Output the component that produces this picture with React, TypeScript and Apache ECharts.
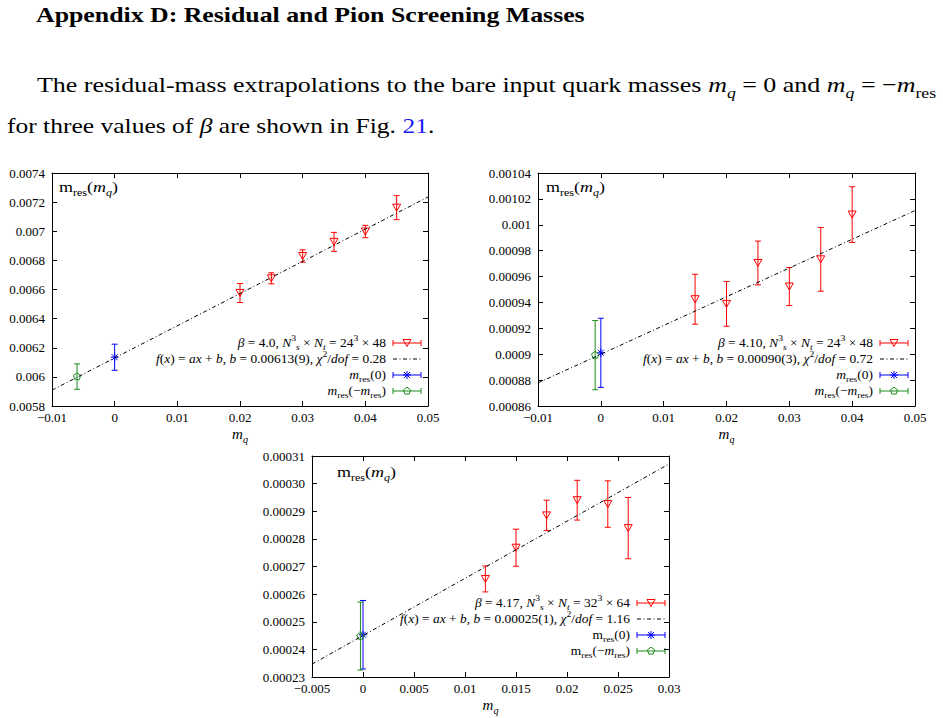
import { useEffect, useRef } from 'react';
import * as echarts from 'echarts';

const SERIF = 'Liberation Serif';
const RED = '#ff0000';
const BLUE = '#0000ff';
const GREEN = '#1e8c1e';
const INK = '#000000';

// beta = 4.0, 24^3 x 48
const mq40 = [0.02, 0.025, 0.03, 0.035, 0.04, 0.045];
const mres40 = [0.006576, 0.006677, 0.00683, 0.006927, 0.006998, 0.007162];
const mresErr40 = [0.0000653, 0.0000378, 0.0000424, 0.0000653, 0.0000424, 0.0000825];
const atZero40 = [0, 0.006135, 0.0000894];
const atNegRes40 = [-0.006, 0.006002, 0.0000871];
const fit40 = [0.0221, 0.00613]; // slope a, intercept b

// beta = 4.10, 24^3 x 48
const mq410 = [0.015, 0.02, 0.025, 0.03, 0.035, 0.04];
const mres410 = [0.0009425, 0.0009389, 0.0009705, 0.0009523, 0.0009733, 0.0010079];
const mresErr410 = [0.0000193, 0.0000173, 0.0000169, 0.0000147, 0.0000246, 0.0000215];
const atZero410 = [0, 0.0009011, 0.0000267];
const atNegRes410 = [-0.0009, 0.0008993, 0.0000267];
const fit410 = [0.00222, 0.0009];

// beta = 4.17, 32^3 x 64
const mq417 = [0.012, 0.015, 0.018, 0.021, 0.024, 0.026];
const mres417 = [0.0002655, 0.0002768, 0.0002885, 0.000294, 0.0002926, 0.0002839];
const mresErr417 = [0.0000047, 0.0000067, 0.0000055, 0.0000072, 0.0000084, 0.0000111];
const atZero417 = [0, 0.0002453, 0.0000124];
const atNegRes417 = [-0.00025, 0.0002448, 0.0000123];
const fit417 = [0.00207, 0.000245];

const xTicks1 = { min: -0.01, max: 0.05, interval: 0.01 };
const yTicks1 = { min: 0.0058, max: 0.0074, interval: 0.0002 };
const xTicks2 = { min: -0.01, max: 0.05, interval: 0.01 };
const yTicks2 = { min: 0.00086, max: 0.00104, interval: 0.00002 };
const xTicks3 = { min: -0.005, max: 0.03, interval: 0.005 };
const yTicks3 = { min: 0.00023, max: 0.00031, interval: 0.00001 };

const legendLabels1 = [
  '{i|β} = 4.0, {i|N}{sup|3}{subi|s} × {i|N}{subi|t} = 24{sup|3} × 48',
  '{i|f}({i|x}) = {i|ax} + {i|b}, {i|b} = 0.00613(9), {i|χ}{sup|2}/{i|dof} = 0.28',
  '{i|m}{sub|res}(0)',
  '{i|m}{sub|res}(−{i|m}{sub|res})',
];
const legendLabels2 = [
  '{i|β} = 4.10, {i|N}{sup|3}{subi|s} × {i|N}{subi|t} = 24{sup|3} × 48',
  '{i|f}({i|x}) = {i|ax} + {i|b}, {i|b} = 0.00090(3), {i|χ}{sup|2}/{i|dof} = 0.72',
  '{i|m}{sub|res}(0)',
  '{i|m}{sub|res}(−{i|m}{sub|res})',
];
const legendLabels3 = [
  '{i|β} = 4.17, {i|N}{sup|3}{subi|s} × {i|N}{subi|t} = 32{sup|3} × 64',
  '{i|f}({i|x}) = {i|ax} + {i|b}, {i|b} = 0.00025(1), {i|χ}{sup|2}/{i|dof} = 1.16',
  '{r|m}{sub|res}(0)',
  '{r|m}{sub|res}(−{i|m}{sub|res})',
];

function mathRich(size: number, lh: number) {
  const small = Math.round(size * 0.68);
  const base = { fontFamily: SERIF, fontSize: size, lineHeight: lh, fontWeight: 'normal' };
  const smallBase = { fontFamily: SERIF, fontSize: small, lineHeight: small, fontWeight: 'normal' };
  return {
    r: { ...base, fontStyle: 'normal' },
    i: { ...base, fontStyle: 'italic' },
    link: { ...base, fontStyle: 'normal', fill: '#1a1aee' },
    sub: { ...smallBase, fontStyle: 'normal', verticalAlign: 'bottom' },
    subi: { ...smallBase, fontStyle: 'italic', verticalAlign: 'bottom' },
    sup: { ...smallBase, fontStyle: 'normal', verticalAlign: 'top' },
  };
}

function texText(
  text: string, x: number, y: number, size: number,
  align: 'left' | 'right' | 'center', scaleX: number, extra: any = {},
) {
  const lh = Math.round(size * 1.4);
  return {
    type: 'text', x, y, scaleX, silent: true,
    style: {
      text, rich: mathRich(size, lh), fontFamily: SERIF, fontSize: size, lineHeight: lh,
      fill: INK, align, textAlign: align, verticalAlign: 'middle', textVerticalAlign: 'middle',
      ...extra,
    },
  };
}

function markerEl(kind: string, cx: number, cy: number, color: string): any {
  const st = { stroke: color, fill: 'none', lineWidth: 1 };
  if (kind === 'tri') {
    return { type: 'polygon', shape: { points: [[cx - 4, cy - 3.5], [cx + 4, cy - 3.5], [cx, cy + 3.5]] }, style: st };
  }
  if (kind === 'star') {
    return {
      type: 'group',
      children: [
        { type: 'line', shape: { x1: cx - 4, y1: cy, x2: cx + 4, y2: cy }, style: st },
        { type: 'line', shape: { x1: cx, y1: cy - 4, x2: cx, y2: cy + 4 }, style: st },
        { type: 'line', shape: { x1: cx - 3, y1: cy - 3, x2: cx + 3, y2: cy + 3 }, style: st },
        { type: 'line', shape: { x1: cx - 3, y1: cy + 3, x2: cx + 3, y2: cy - 3 }, style: st },
      ],
    };
  }
  const pts: number[][] = [];
  for (let k = 0; k < 5; k++) {
    const a = -Math.PI / 2 + (k * 2 * Math.PI) / 5;
    pts.push([cx + 3.8 * Math.cos(a), cy + 3.8 * Math.sin(a)]);
  }
  return { type: 'polygon', shape: { points: pts }, style: st };
}

const errorBarRenderer = (kind: string, color: string) => (_params: any, api: any) => {
  const x = api.value(0);
  const y = api.value(1);
  const e = api.value(2);
  const c = api.coord([x, y]);
  const yt = api.coord([x, y + e])[1];
  const yb = api.coord([x, y - e])[1];
  const st = { stroke: color, lineWidth: 1, fill: 'none' };
  return {
    type: 'group',
    children: [
      { type: 'line', shape: { x1: c[0], y1: yt, x2: c[0], y2: yb }, style: st },
      { type: 'line', shape: { x1: c[0] - 3, y1: yt, x2: c[0] + 3, y2: yt }, style: st },
      { type: 'line', shape: { x1: c[0] - 3, y1: yb, x2: c[0] + 3, y2: yb }, style: st },
      markerEl(kind, c[0], c[1], color),
    ],
  };
};

const DASH_DOT = [4, 2.5, 1, 2.5];

function legendBlock(labels: string[], textRight: number, x0: number, x1: number, ys: number[], scaleX: number) {
  const els: any[] = [];
  const kinds = [['tri', RED], ['fit', INK], ['star', BLUE], ['pent', GREEN]];
  kinds.forEach(([kind, color], k) => {
    const y = ys[k];
    els.push(texText(labels[k], textRight, y, 12.5, 'right', scaleX));
    if (kind === 'fit') {
      els.push({ type: 'line', silent: true, shape: { x1: x0, y1: y, x2: x1, y2: y }, style: { stroke: INK, lineWidth: 1, lineDash: DASH_DOT } });
      return;
    }
    const st = { stroke: color, lineWidth: 1 };
    els.push({ type: 'line', silent: true, shape: { x1: x0, y1: y, x2: x1, y2: y }, style: st });
    els.push({ type: 'line', silent: true, shape: { x1: x0, y1: y - 3, x2: x0, y2: y + 3 }, style: st });
    els.push({ type: 'line', silent: true, shape: { x1: x1, y1: y - 3, x2: x1, y2: y + 3 }, style: st });
    els.push({ ...markerEl(kind, (x0 + x1) / 2, y, color), silent: true });
  });
  return els;
}

const fmtTrim = (v: number) => String(parseFloat(v.toPrecision(8))).replace('-', '−');
const fmtFixed5 = (v: number) => v.toFixed(5).replace('-', '−');

const panels = [
  {
    grid: { left: 52, top: 173, width: 376, height: 233 },
    xt: xTicks1, yt: yTicks1, yFmt: fmtTrim,
    mq: mq40, mres: mres40, err: mresErr40, zero: atZero40, neg: atNegRes40, fit: fit40,
  },
  {
    grid: { left: 538, top: 173, width: 377, height: 233 },
    xt: xTicks2, yt: yTicks2, yFmt: fmtTrim,
    mq: mq410, mres: mres410, err: mresErr410, zero: atZero410, neg: atNegRes410, fit: fit410,
  },
  {
    grid: { left: 312, top: 456, width: 357, height: 221 },
    xt: xTicks3, yt: yTicks3, yFmt: fmtFixed5,
    mq: mq417, mres: mres417, err: mresErr417, zero: atZero417, neg: atNegRes417, fit: fit417,
  },
];

function buildOption() {
  const grid: any[] = [];
  const xAxis: any[] = [];
  const yAxis: any[] = [];
  const series: any[] = [];
  const axisLine = { show: true, onZero: false, lineStyle: { color: INK, width: 1 } };
  const axisTick = { show: true, inside: true, length: 5, lineStyle: { color: INK, width: 1 } };
  const labelFont = { fontFamily: SERIF, fontSize: 13, color: INK };

  panels.forEach((p, i) => {
    grid.push({ ...p.grid, containLabel: false, outerBoundsMode: 'none' });
    const xc = { type: 'value', gridIndex: i, ...p.xt, axisLine, axisTick, splitLine: { show: false } };
    const yc = { type: 'value', gridIndex: i, ...p.yt, axisLine, axisTick, splitLine: { show: false } };
    xAxis.push({
      ...xc, position: 'bottom',
      axisLabel: { ...labelFont, margin: 5, formatter: fmtTrim },
      name: '{i|m}{subi|q}', nameLocation: 'middle', nameGap: 18,
      nameTextStyle: { fontFamily: SERIF, fontSize: 15, color: INK, rich: mathRich(15, 20) },
    });
    xAxis.push({ ...xc, position: 'top', axisLabel: { show: false } });
    yAxis.push({ ...yc, position: 'left', axisLabel: { ...labelFont, margin: 7, formatter: p.yFmt } });
    yAxis.push({ ...yc, position: 'right', axisLabel: { show: false } });

    const xi = 2 * i;
    series.push({
      type: 'custom', xAxisIndex: xi, yAxisIndex: xi, silent: true,
      renderItem: errorBarRenderer('tri', RED),
      data: p.mq.map((x, k) => [x, p.mres[k], p.err[k]]),
    });
    const [a, b] = p.fit;
    series.push({
      type: 'line', xAxisIndex: xi, yAxisIndex: xi, silent: true, symbol: 'none',
      lineStyle: { color: INK, width: 1, type: DASH_DOT },
      data: [[p.xt.min, a * p.xt.min + b], [p.xt.max, a * p.xt.max + b]],
    });
    series.push({
      type: 'custom', xAxisIndex: xi, yAxisIndex: xi, silent: true,
      renderItem: errorBarRenderer('star', BLUE), data: [p.zero],
    });
    series.push({
      type: 'custom', xAxisIndex: xi, yAxisIndex: xi, silent: true,
      renderItem: errorBarRenderer('pent', GREEN), data: [p.neg],
    });
  });

  const graphic: any[] = [
    {
      type: 'text', x: 36, y: 15, scaleX: 1.23, silent: true,
      style: {
        text: 'Appendix D: Residual and Pion Screening Masses', fontFamily: SERIF, fontWeight: 'bold',
        fontSize: 21, fill: INK, align: 'left', textAlign: 'left', verticalAlign: 'middle', textVerticalAlign: 'middle',
      },
    },
    texText('The residual-mass extrapolations to the bare input quark masses {i|m}{subi|q} = 0 and {i|m}{subi|q} = −{i|m}{sub|res}', 37, 85, 22, 'left', 1.18),
    texText('for three values of {i|β} are shown in Fig. {link|21}.', 7, 126, 22, 'left', 1.16),
    texText('{r|m}{sub|res}({i|m}{subi|q})', 59, 187, 15, 'left', 1.2),
    texText('{r|m}{sub|res}({i|m}{subi|q})', 546, 187, 15, 'left', 1.2),
    texText('{r|m}{sub|res}({i|m}{subi|q})', 337, 472, 15, 'left', 1.2),
    ...legendBlock(legendLabels1, 386, 393, 421, [343, 359, 375, 391], 1.075),
    ...legendBlock(legendLabels2, 873, 880, 908, [343, 359, 375, 391], 1.075),
    ...legendBlock(legendLabels3, 630, 637, 665, [603, 619, 635, 651], 1.075),
  ];

  return { animation: false, backgroundColor: '#ffffff', grid, xAxis, yAxis, series, graphic };
}

export default function App() {
  const ref = useRef<HTMLDivElement>(null);
  useEffect(() => {
    if (!ref.current) return;
    const chart = echarts.init(ref.current, undefined, { renderer: 'svg' });
    chart.setOption(buildOption() as any);
    return () => chart.dispose();
  }, []);
  return (
    <div
      ref={ref}
      style={{ position: 'absolute', left: 0, top: 0, width: 943, height: 718, background: '#fff' }}
    />
  );
}
